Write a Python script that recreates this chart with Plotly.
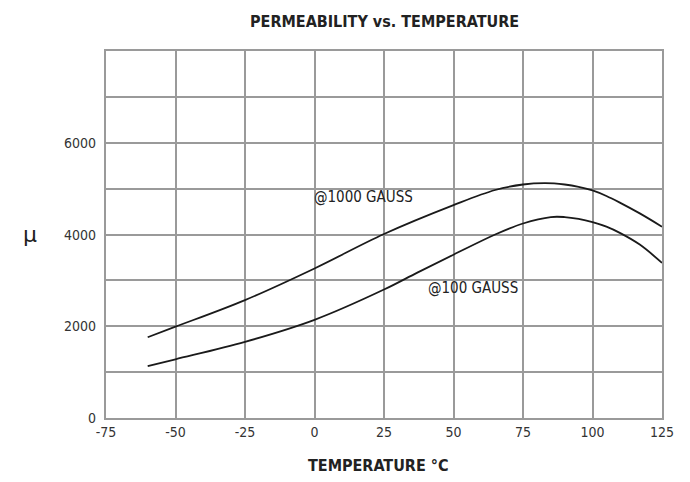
import plotly.graph_objects as go

# Data
temp_1000 = [-60, -50, -25, 0, 25, 50, 65, 75, 83, 90, 95, 100, 105, 110, 117, 125]
mu_1000 = [1760, 1990, 2570, 3260, 4010, 4640, 4970, 5090, 5120, 5090, 5040, 4960, 4840, 4690, 4460, 4170]

temp_100 = [-60, -50, -25, 0, 25, 37, 50, 65, 75, 85, 90, 95, 100, 105, 110, 117, 125]
mu_100 = [1130, 1280, 1660, 2140, 2800, 3170, 3560, 4000, 4240, 4380, 4380, 4340, 4270, 4170, 4030, 3780, 3380]

x_ticks = [-75, -50, -25, 0, 25, 50, 75, 100, 125]
x_tick_labels = ["-75", "-50", "-25", "0", "25", "50", "75", "100", "125"]
y_ticks = [0, 2000, 4000, 6000]
y_tick_labels = ["0", "2000", "4000", "6000"]

FONT = "DejaVu Sans Condensed, Liberation Sans Narrow, Roboto, sans-serif"
GRID = "#9a9a9a"
INK = "#222222"

fig = go.Figure()
for xs, ys in ((temp_1000, mu_1000), (temp_100, mu_100)):
    fig.add_trace(go.Scatter(x=xs, y=ys, mode="lines",
                             line=dict(color="#1a1a1a", width=1.8, shape="spline", smoothing=1.0),
                             showlegend=False, hoverinfo="skip"))

# page body has an 8px default margin, so the figure is 8px smaller than the window
fig.update_layout(
    width=682, height=474,
    margin=dict(l=98, r=28, t=43, b=64, pad=0),
    paper_bgcolor="white", plot_bgcolor="white",
    font=dict(family=FONT, color="#333333", size=13),
)
fig.update_xaxes(range=[-75, 125], tickmode="array", tickvals=x_ticks, ticktext=x_tick_labels,
                 showgrid=True, gridcolor=GRID, gridwidth=2, zeroline=False,
                 showline=True, linecolor=GRID, linewidth=2, mirror=True, ticks="",
                 tickfont=dict(family=FONT, size=14, color="#333333"), fixedrange=True)
fig.update_yaxes(range=[0, 8000], tickmode="linear", tick0=0, dtick=1000,
                 showgrid=True, gridcolor=GRID, gridwidth=2, zeroline=False,
                 showline=True, linecolor=GRID, linewidth=2, mirror=True, ticks="",
                 showticklabels=False, fixedrange=True)

annotations = []
for v, t in zip(y_ticks, y_tick_labels):
    annotations.append(dict(x=0, xref="paper", y=v, yref="y", text=t, showarrow=False,
                            xanchor="right", yanchor="middle", xshift=-8,
                            font=dict(family=FONT, size=14, color="#333333")))
annotations += [
    dict(x=0.5, xref="paper", y=1, yref="paper", yshift=30, text="<b>PERMEABILITY vs. TEMPERATURE</b>",
         showarrow=False, xanchor="center", yanchor="middle", font=dict(family=FONT, size=16, color=INK)),
    dict(x=0.49, xref="paper", y=0, yref="paper", yshift=-47, text="<b>TEMPERATURE °C</b>",
         showarrow=False, xanchor="center", yanchor="middle", font=dict(family=FONT, size=16, color=INK)),
    dict(x=0, xref="paper", y=4000, yref="y", xshift=-76, text="μ",
         showarrow=False, xanchor="center", yanchor="middle", font=dict(family="DejaVu Sans", size=22, color=INK)),
    dict(x=17.5, y=4820, text="@1000 GAUSS", showarrow=False, xanchor="center", yanchor="middle",
         font=dict(family=FONT, size=15, color=INK)),
    dict(x=57, y=2830, text="@100 GAUSS", showarrow=False, xanchor="center", yanchor="middle",
         font=dict(family=FONT, size=15, color=INK)),
]
fig.update_layout(annotations=annotations)

fig.write_html("out.html")
